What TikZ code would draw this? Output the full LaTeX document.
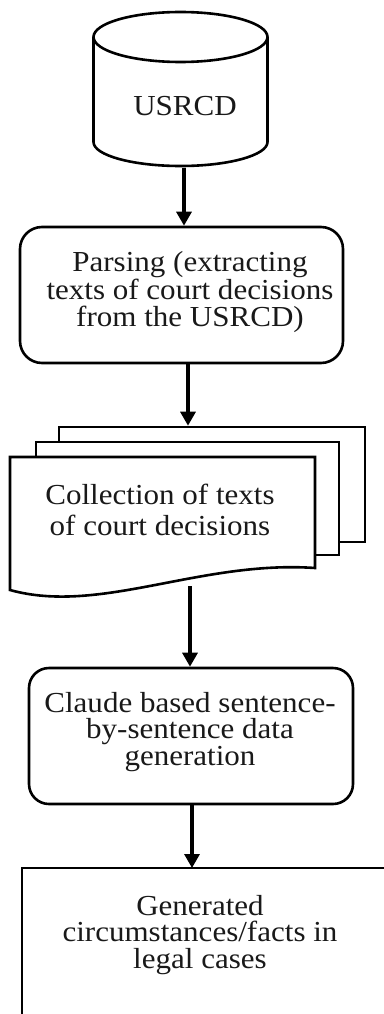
\documentclass[tikz,border=0pt]{standalone}
\usepackage{fontspec}
\setmainfont{Liberation Serif}[FakeStretch=1.07]
\usetikzlibrary{arrows.meta}
\begin{document}
\begin{tikzpicture}[x=1pt,y=-1pt,
  line/.style={line width=2.6pt, draw=black},
  arr/.style={line width=3.2pt, draw=black, -{Triangle[width=15pt,length=14pt]}},
  txt/.style={font=\fontsize{29}{26.5}\selectfont, align=center, inner sep=0pt, text=black!90},
  box/.style={line, rounded corners=22pt, inner sep=0pt, fill=white},
  sheet/.style={line, fill=white, inner sep=0pt}]
\useasboundingbox (0,0) rectangle (383,1014);
\fill[white] (0,0) rectangle (383,1014);

% ---- cylinder USRCD
\coordinate (dbtop) at (180.5,37);
\coordinate (dbbot) at (180.5,142);
\draw[line] (dbtop) ellipse [x radius=87pt, y radius=25pt];
\draw[line] (93.5,37) -- (93.5,142) arc[start angle=180, end angle=360, x radius=87pt, y radius=24pt] -- (267.5,37);
\node[txt] (usrcd) at (185,106) {USRCD};
\coordinate (dbsouth) at (184,168);

% ---- parsing box
\node[box, minimum width=323pt, minimum height=136pt] (parse) at (181.5,295) {};
\node[txt] (parsetxt) at (190,292) {Parsing (extracting\\texts of court decisions\\from the USRCD)};

% ---- document stack
\node[sheet, minimum width=306pt, minimum height=115pt] (back) at (212,484.5) {};
\node[sheet, minimum width=303pt, minimum height=113pt] (mid) at (187.5,498.5) {};
\coordinate (fnw) at (10,457);
\coordinate (fne) at (315,457);
\coordinate (fse) at (315,568);
\coordinate (fsw) at (10,590);
\filldraw[line, fill=white] (fnw) -- (fne) -- (fse) .. controls (200,560) and (100,615) .. (fsw) -- cycle;
\node[txt, font=\fontsize{29}{31}\selectfont] (coll) at (160,510) {Collection of texts\\of court decisions};

% ---- claude box
\node[box, rounded corners=20pt, minimum width=324pt, minimum height=136pt] (claude) at (191,736) {};
\node[txt] (claudetxt) at (190,732) {Claude based sentence-\\by-sentence data\\generation};

% ---- generated (open) box
\coordinate (gtop) at (192,868);
\draw[line] (395,868) -- (22,868) -- (22,1025);
\node[txt] (gen) at (200,935) {Generated\\circumstances/facts in\\legal cases};

% ---- connectors
\coordinate (a1) at (184,0);
\coordinate (a2) at (188,0);
\coordinate (a3) at (190,586);
\coordinate (a4) at (192,0);
\draw[arr] (dbsouth) -- (parse.north -| a1);
\draw[arr] (parse.south -| a2) -- (back.north -| a2);
\draw[arr] (a3) -- (claude.north -| a3);
\draw[arr] (claude.south -| a4) -- (gtop);
\end{tikzpicture}
\end{document}
